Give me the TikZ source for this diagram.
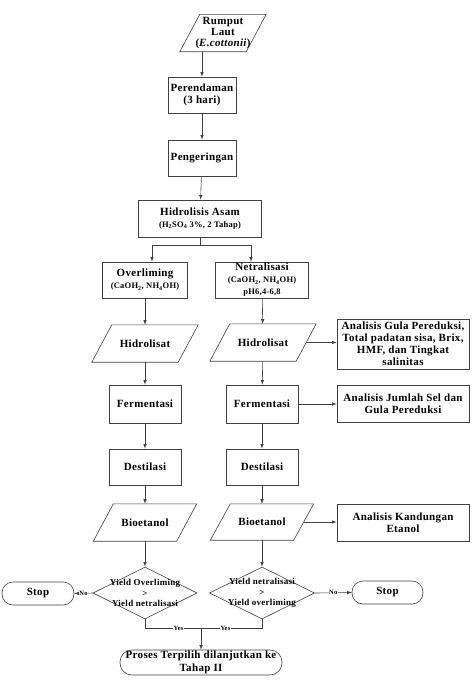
\documentclass[tikz,border=0pt]{standalone}
\usepackage{fontspec}
\setmainfont[LetterSpace=3]{Liberation Serif}
\usetikzlibrary{arrows,shapes,calc}
\newcommand{\ket}{\fontsize{8.5}{9.5}\selectfont}
\tikzset{
  line/.style={draw=black!75,line width=.6pt},
  box/.style={line,rectangle,align=center,inner sep=1pt,font=\fontsize{11}{12}\selectfont\bfseries},
  data/.style={rectangle,align=center,inner sep=0pt,font=\fontsize{11}{11}\selectfont\bfseries},
  decision/.style={line,diamond,inner sep=0pt},
  dtext/.style={align=center,font=\fontsize{9}{10.5}\selectfont\bfseries},
  term/.style={line,rectangle,rounded corners=11pt,align=center,inner sep=0pt,font=\fontsize{11}{12.5}\selectfont\bfseries},
  tag/.style={fill=white,inner sep=.6pt,font=\fontsize{6.5}{6.5}\selectfont\bfseries},
}
\begin{document}
\begin{tikzpicture}[x=1pt,y=-1pt,>=latex]
\useasboundingbox (0,0) rectangle (472,697);
%main column
\node[data,minimum width=66,minimum height=37] (rumput) at (223,33) {Rumput\\Laut\\(\textit{E.cottonii})};
\node[box,minimum width=68,minimum height=36] (per) at (202,95) {Perendaman\\(3 hari)};
\node[box,minimum width=68,minimum height=36] (peng) at (202,158) {Pengeringan};
\node[box,minimum width=123,minimum height=37] (hid) at (200,218.5) {Hidrolisis Asam\\{\ket (H\textsubscript{2}SO\textsubscript{4} 3\%, 2 Tahap)}};
%overliming
\node[box,minimum width=85,minimum height=36] (over) at (145,280) {Overliming\\{\ket (CaOH\textsubscript{2}, NH\textsubscript{4}OH)}};
\node[data,minimum width=86,minimum height=37] (hidL) at (145,343.5) {Hidrolisat};
\node[box,minimum width=72,minimum height=38] (fermL) at (145,404) {Fermentasi};
\node[box,minimum width=72,minimum height=36] (destL) at (145,467) {Destilasi};
\node[data,minimum width=83,minimum height=37] (bioL) at (145,522.5) {Bioetanol};
\node[decision,minimum width=104,minimum height=52,label={[dtext]center:Yield Overliming\\>\\Yield netralisasi}] (d1) at (145,593) {};
%netralisasi
\node[box,minimum width=93,minimum height=36] (netr) at (262,280) {Netralisasi\\{\ket (CaOH\textsubscript{2}, NH\textsubscript{4}OH)}\\{\ket pH6,4-6,8}};
\node[data,minimum width=86,minimum height=37] (hidR) at (263,342.5) {Hidrolisat};
\node[box,minimum width=72,minimum height=38] (fermR) at (262,404) {Fermentasi};
\node[box,minimum width=72,minimum height=36] (destR) at (262,467) {Destilasi};
\node[data,minimum width=83,minimum height=36] (bioR) at (262,522) {Bioetanol};
\node[decision,minimum width=105,minimum height=52,label={[dtext]center:Yield netralisasi\\>\\Yield overliming}] (d2) at (262,593) {};
%analisis
\node[box,minimum width=132,minimum height=50] (an1) at (403,344) {Analisis Gula Pereduksi,\\Total padatan sisa, Brix,\\HMF, dan Tingkat\\salinitas};
\node[box,minimum width=132,minimum height=37] (an2) at (403,403.5) {Analisis Jumlah Sel dan\\Gula Pereduksi};
\node[box,minimum width=132,minimum height=37] (an3) at (403,522.5) {Analisis Kandungan\\Etanol};
%end
\node[term,minimum width=72,minimum height=23] (stop1) at (38,593.5) {Stop};
\node[term,minimum width=71,minimum height=23] (stop2) at (387.5,592.5) {Stop};
\node[term,minimum width=162,minimum height=25,rounded corners=12pt] (proses) at (201,662.5) {Proses Terpilih dilanjutkan ke\\Tahap II};
\coordinate (split) at (200,245);
\coordinate (join) at (201,628);
%parallelograms
\foreach \n in {rumput,hidL,hidR,bioL,bioR}{
\draw[line] ($(\n.south west)+(-10,0)$) -- ($(\n.south east)+(-10,0)$) -- ($(\n.north east)+(10,0)$) -- ($(\n.north west)+(10,0)$) -- cycle;
}
%arrows
\draw[line,->] (rumput.south -| per.north) -- (per.north);
\draw[line,->] (per) -- (peng);
\draw[line,->] (peng) -- (hid);
\draw[line] (hid.south) -- (split);
\draw[line,->] (split) -| ([xshift=7pt]over.north);
\draw[line,->] (split) -| ([xshift=-11pt]netr.north);
\foreach \a/\b in {over/hidL,hidL/fermL,fermL/destL,destL/bioL,bioL/d1,netr/hidR,hidR/fermR,fermR/destR,destR/bioR,bioR/d2}{
\draw[line,->] (\a) -- (\b);
}
\draw[line,->] (hidR.east) -- (an1.west |- hidR.east);
\draw[line,->] (fermR.east) -- (an2.west |- fermR.east);
\draw[line,->] (bioR.east) -- (an3.west |- bioR.east);
\draw[line,->] (d1.west) -- (stop1.east) node[midway,tag]{No};
\draw[line,->] (d2.east) -- (stop2.west) node[midway,tag]{No};
\draw[line] (d1.south) |- (join) node[pos=.8,tag]{Yes};
\draw[line] (d2.south) |- (join) node[pos=.8,tag]{Yes};
\draw[line,->] (join) -- (proses);
\end{tikzpicture}
\end{document}
